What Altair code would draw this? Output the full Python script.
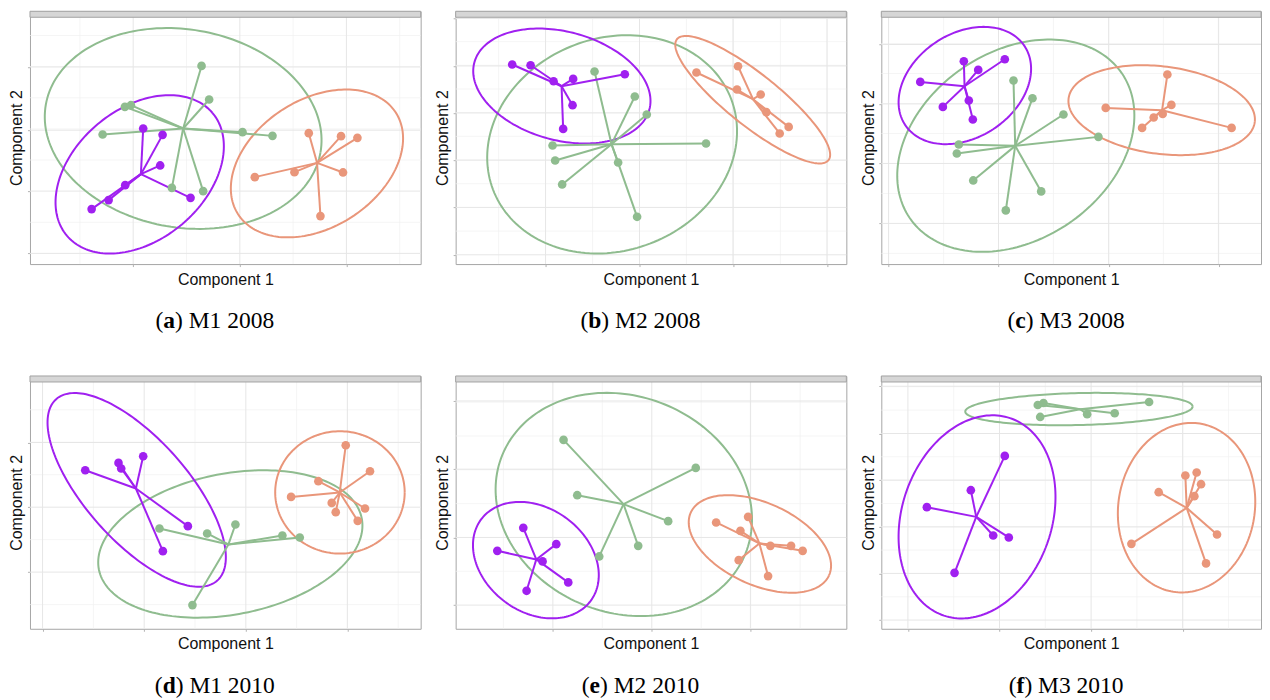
import numpy as np
import pandas as pd
import altair as alt

# ---------------- data (component scores) ----------------
GROUPS = ["Cluster 1", "Cluster 2", "Cluster 3"]
COLORS = ["#8fbc8f", "#a020f0", "#e9967a"]

# (a) M1 2008
A_GREEN_X = [171.7, 179.3, 95.0, 101.0, 72.7, 212.7, 242.7, 142.0, 173.3]
A_GREEN_Y = [198.3, 164.7, 157.3, 159.0, 129.7, 132.0, 128.3, 76.3, 73.0]
A_PURPLE_X = [113.3, 132.7, 130.3, 95.3, 78.7, 61.7, 160.7]
A_PURPLE_Y = [135.7, 129.3, 98.7, 79.0, 64.0, 55.0, 66.3]
A_ORANGE_X = [279.0, 311.3, 327.7, 313.3, 290.7, 264.7, 225.0]
A_ORANGE_Y = [131.0, 128.0, 126.3, 91.7, 48.0, 92.0, 87.0]
A_CENTERS = [(153.3, 135.7), (111.0, 90.0), (287.3, 101.3)]
A_ELLIPSES = [(153.3, 135.7, 139.5, 99.1, -9.8), (109.8, 89.8, 95.3, 65.5, 40.1), (287.2, 100.7, 93.9, 63.9, 32.8)]
A_XTICKS = [103.3, 210.0, 316.7]
A_YTICKS = [10.7, 73.0, 134.0, 197.3]

# (b) M2 2008
B_GREEN_X = [139.0, 179.3, 191.3, 97.0, 99.6, 106.6, 162.6, 181.6, 250.6]
B_GREEN_Y = [192.7, 167.7, 149.7, 118.7, 103.7, 79.7, 101.7, 47.3, 120.7]
B_PURPLE_X = [56.6, 75.0, 98.0, 117.6, 169.3, 117.0, 107.6]
B_PURPLE_Y = [199.7, 199.0, 183.0, 185.3, 190.0, 159.0, 135.3]
B_ORANGE_X = [241.0, 282.6, 281.6, 305.3, 311.0, 333.3, 324.3]
B_ORANGE_Y = [191.7, 198.0, 174.7, 169.7, 152.0, 137.3, 130.7]
B_CENTERS = [(156.0, 120.0), (106.0, 178.0), (297.6, 165.0)]
B_ELLIPSES = [(156.6, 119.8, 127.5, 106.3, 20.8), (106.3, 178.2, 90.7, 54.3, -15.1), (297.3, 164.5, 97.0, 25.8, -38.6)]
B_XTICKS = [90.0, 184.0, 277.6, 371.6]
B_YTICKS = [9.3, 56.7, 104.0, 151.3, 198.3, 245.7]

# (c) M3 2008
C_GREEN_X = [132.3, 151.3, 182.3, 217.3, 77.6, 75.6, 92.0, 160.0, 124.6]
C_GREEN_Y = [183.7, 166.0, 149.7, 127.3, 119.7, 110.7, 83.7, 72.7, 53.7]
C_PURPLE_X = [39.0, 82.6, 97.0, 123.6, 87.6, 61.6, 91.6]
C_PURPLE_Y = [182.3, 203.0, 194.3, 205.0, 163.7, 157.3, 144.7]
C_ORANGE_X = [286.3, 290.3, 281.6, 272.6, 261.0, 224.6, 350.6]
C_ORANGE_Y = [189.7, 159.3, 150.3, 146.7, 136.3, 156.3, 136.3]
C_CENTERS = [(134.0, 118.3), (83.3, 178.0), (281.0, 154.0)]
C_ELLIPSES = [(134.6, 118.5, 128.5, 94.1, 34.3), (83.6, 178.7, 71.6, 52.1, 33.4), (280.6, 154.0, 93.9, 43.8, -7.2)]
C_XTICKS = [7.3, 117.3, 227.6, 337.6]
C_YTICKS = [40.7, 100.7, 160.3, 219.7]

# (d) M1 2010
D_GREEN_X = [129.6, 177.3, 205.6, 252.6, 270.0, 162.6]
D_GREEN_Y = [100.4, 95.4, 104.4, 93.4, 91.4, 23.7]
D_PURPLE_X = [55.3, 88.6, 91.3, 113.3, 158.0, 133.0]
D_PURPLE_Y = [158.7, 166.0, 160.4, 172.7, 102.7, 77.7]
D_ORANGE_X = [316.0, 340.3, 288.6, 261.3, 302.0, 306.0, 335.3, 328.0]
D_ORANGE_Y = [183.7, 157.7, 147.7, 132.0, 126.0, 116.7, 120.4, 108.0]
D_CENTERS = [(198.6, 84.4), (106.0, 140.4), (310.0, 136.4)]
D_ELLIPSES = [(200.5, 84.9, 134.0, 70.5, 11.0), (106.8, 139.0, 121.4, 51.2, -48.4), (310.2, 136.5, 64.8, 61.2, 0.0)]
D_XTICKS = [12.6, 114.3, 216.0, 317.6]
D_YTICKS = [56.7, 121.7, 186.4]

# (e) M2 2010
E_GREEN_X = [108.0, 240.3, 121.7, 212.7, 182.7, 143.7]
E_GREEN_Y = [189.0, 161.0, 133.7, 107.7, 83.0, 72.4]
E_PURPLE_X = [67.7, 100.7, 41.7, 87.0, 112.7, 71.0]
E_PURPLE_Y = [101.0, 84.7, 78.0, 67.4, 46.4, 38.0]
E_ORANGE_X = [260.7, 292.7, 285.0, 315.0, 335.7, 347.3, 283.3, 312.7]
E_ORANGE_Y = [106.4, 112.0, 98.0, 83.0, 83.0, 78.0, 68.7, 52.7]
E_CENTERS = [(168.0, 124.7), (80.7, 69.4), (304.0, 85.4)]
E_ELLIPSES = [(168.3, 124.4, 131.3, 108.2, -22.0), (80.3, 68.7, 68.3, 51.9, -36.6), (304.5, 84.9, 76.0, 41.0, -24.5)]
E_XTICKS = [97.3, 196.3, 295.0]
E_YTICKS = [23.7, 91.4, 159.7, 228.0]

# (f) M3 2010
F_GREEN_X = [156.6, 162.3, 159.0, 206.0, 233.6, 268.0]
F_GREEN_Y = [224.0, 226.0, 212.0, 214.7, 215.7, 227.0]
F_PURPLE_X = [123.6, 89.6, 45.6, 112.0, 127.6, 73.3]
F_PURPLE_Y = [173.0, 138.7, 121.7, 93.4, 91.4, 56.0]
F_ORANGE_X = [304.3, 315.6, 320.0, 313.3, 277.6, 336.0, 325.0, 250.3]
F_ORANGE_Y = [153.4, 156.4, 144.7, 132.7, 136.7, 94.4, 65.4, 85.0]
F_CENTERS = [(199.0, 219.7), (95.0, 112.0), (305.6, 121.0)]
F_ELLIPSES = [(197.8, 219.9, 113.8, 16.0, 1.3), (95.8, 112.0, 104.2, 75.1, 71.5), (305.5, 121.2, 85.2, 68.3, 81.0)]
F_XTICKS = [26.6, 118.3, 210.0, 301.6]
F_YTICKS = [8.7, 55.4, 102.0, 148.7, 195.4, 242.7]

CAPTIONS = [("a", "M1 2008"), ("b", "M2 2008"), ("c", "M3 2008"),
            ("d", "M1 2010"), ("e", "M2 2010"), ("f", "M3 2010")]

# ---------------- layout / style ----------------
H = 253          # plot height (incl. strip)
STRIP = 6
SANS = "Liberation Sans"
SERIF = "Liberation Serif"
CAP_SIZE = 23.5
BOLD_W = {"a": 0.5, "b": 0.556, "c": 0.444, "d": 0.556, "e": 0.444, "f": 0.333}


def minor_positions(ticks, hi):
    step = (ticks[1] - ticks[0]) / 2.0
    vals = []
    v = ticks[0]
    while v - step > 0:
        v -= step
    while v < hi:
        vals.append(v)
        v += step
    return [p for p in vals if all(abs(p - t) > 1e-6 for t in ticks)]


def panel(points, centers, ellipses, xt, yt, caption, W):
    xs = alt.Scale(domain=[0, W], nice=False, zero=False)
    ys = alt.Scale(domain=[0, H], nice=False, zero=False)
    xaxis = alt.Axis(values=xt, labels=False, grid=False, domain=False, ticks=True,
                     tickSize=2.5, tickColor="#b3b3b3", title="Component 1",
                     titleFont=SANS, titleFontSize=16, titleFontWeight="normal",
                     titleColor="#111111", titlePadding=4)
    yaxis = alt.Axis(values=yt, labels=False, grid=False, domain=False, ticks=True,
                     tickSize=2.5, tickColor="#b3b3b3", title="Component 2",
                     titleFont=SANS, titleFontSize=16, titleFontWeight="normal",
                     titleColor="#111111", titlePadding=2)

    def X(f):
        return alt.X(f, type="quantitative", scale=xs, axis=xaxis)

    def Y(f):
        return alt.Y(f, type="quantitative", scale=ys, axis=yaxis)

    color = alt.Color("group:N", scale=alt.Scale(domain=GROUPS, range=COLORS), legend=None)

    pts, ell = [], []
    for g, (px, py), (cx, cy), (ex, ey, a, b, ang) in zip(GROUPS, points, centers, ellipses):
        for x, y in zip(px, py):
            pts.append({"group": g, "x": x, "y": y, "cx": cx, "cy": cy})
        t = np.linspace(0, 2 * np.pi, 181)
        th = np.radians(ang)
        ex_ = ex + a * np.cos(th) * np.cos(t) - b * np.sin(th) * np.sin(t)
        ey_ = ey + a * np.sin(th) * np.cos(t) + b * np.cos(th) * np.sin(t)
        for i, (u, v) in enumerate(zip(ex_, ey_)):
            ell.append({"group": g, "i": i, "x": float(u), "y": float(v)})
    pts = pd.DataFrame(pts)
    ell = pd.DataFrame(ell)

    vmin = pd.DataFrame({"v": minor_positions(xt, W)})
    vmaj = pd.DataFrame({"v": xt})
    hmin = pd.DataFrame({"h": minor_positions(yt, H - STRIP)})
    hmaj = pd.DataFrame({"h": [v for v in yt if v < H - STRIP]})

    g1 = alt.Chart(vmin).mark_rule(color="#f0f0f0", strokeWidth=0.7).encode(x=X("v"))
    g2 = alt.Chart(hmin).mark_rule(color="#f0f0f0", strokeWidth=0.7).encode(y=Y("h"))
    g3 = alt.Chart(vmaj).mark_rule(color="#e6e6e6", strokeWidth=1).encode(x=X("v"))
    g4 = alt.Chart(hmaj).mark_rule(color="#e6e6e6", strokeWidth=1).encode(y=Y("h"))

    segs = alt.Chart(pts).mark_rule(strokeWidth=2, clip=True).encode(
        x=X("x"), y=Y("y"), x2="cx:Q", y2="cy:Q", color=color)
    dots = alt.Chart(pts).mark_circle(size=75, opacity=1, clip=True).encode(
        x=X("x"), y=Y("y"), color=color)
    ells = alt.Chart(ell).mark_line(strokeWidth=2, clip=True).encode(
        x=X("x"), y=Y("y"), order="i:Q", detail="group:N", color=color)

    strip = alt.Chart(pd.DataFrame({"s": [0]})).mark_rect(
        fill="#d6d6d6", stroke="#a3a3a3", strokeWidth=1).encode(
        x=alt.value(0), x2=alt.value(W), y=alt.value(0), y2=alt.value(STRIP))

    letter, rest = caption
    total = (0.333 + BOLD_W[letter] + 0.333 + 0.25 + 0.889 + 0.5 + 0.25 + 2.0) * CAP_SIZE
    x0 = 185 - total / 2
    ybase = 317
    cap1 = alt.Chart(pd.DataFrame({"t": ["("]})).mark_text(
        font=SERIF, fontSize=CAP_SIZE, align="left", baseline="alphabetic", color="#000000").encode(
        text="t:N", x=alt.value(x0), y=alt.value(ybase))
    cap2 = alt.Chart(pd.DataFrame({"t": [letter]})).mark_text(
        font=SERIF, fontSize=CAP_SIZE, fontWeight="bold", align="left", baseline="alphabetic",
        color="#000000").encode(
        text="t:N", x=alt.value(x0 + 0.333 * CAP_SIZE), y=alt.value(ybase))
    cap3 = alt.Chart(pd.DataFrame({"t": [") " + rest]})).mark_text(
        font=SERIF, fontSize=CAP_SIZE, align="left", baseline="alphabetic", color="#000000").encode(
        text="t:N", x=alt.value(x0 + (0.333 + BOLD_W[letter]) * CAP_SIZE), y=alt.value(ybase))

    return alt.layer(g1, g2, g3, g4, ells, segs, dots, strip, cap1, cap2, cap3).properties(
        width=W, height=H)


W_PANEL = 391
pa = panel([(A_GREEN_X, A_GREEN_Y), (A_PURPLE_X, A_PURPLE_Y), (A_ORANGE_X, A_ORANGE_Y)],
           A_CENTERS, A_ELLIPSES, A_XTICKS, A_YTICKS, CAPTIONS[0], W_PANEL)
pb = panel([(B_GREEN_X, B_GREEN_Y), (B_PURPLE_X, B_PURPLE_Y), (B_ORANGE_X, B_ORANGE_Y)],
           B_CENTERS, B_ELLIPSES, B_XTICKS, B_YTICKS, CAPTIONS[1], W_PANEL)
pc = panel([(C_GREEN_X, C_GREEN_Y), (C_PURPLE_X, C_PURPLE_Y), (C_ORANGE_X, C_ORANGE_Y)],
           C_CENTERS, C_ELLIPSES, C_XTICKS, C_YTICKS, CAPTIONS[2], 380)
pd_ = panel([(D_GREEN_X, D_GREEN_Y), (D_PURPLE_X, D_PURPLE_Y), (D_ORANGE_X, D_ORANGE_Y)],
            D_CENTERS, D_ELLIPSES, D_XTICKS, D_YTICKS, CAPTIONS[3], W_PANEL)
pe = panel([(E_GREEN_X, E_GREEN_Y), (E_PURPLE_X, E_PURPLE_Y), (E_ORANGE_X, E_ORANGE_Y)],
           E_CENTERS, E_ELLIPSES, E_XTICKS, E_YTICKS, CAPTIONS[4], W_PANEL)
pf = panel([(F_GREEN_X, F_GREEN_Y), (F_PURPLE_X, F_PURPLE_Y), (F_ORANGE_X, F_ORANGE_Y)],
           F_CENTERS, F_ELLIPSES, F_XTICKS, F_YTICKS, CAPTIONS[5], 380)

chart = alt.concat(pa, pb, pc, pd_, pe, pf, columns=3,
                   spacing={"row": 112, "column": 35}, bounds="flush").properties(
    padding={"left": 0, "top": 2, "right": 0, "bottom": 0}
).configure_view(stroke="#a6a6a6", strokeWidth=1)

chart.save("out.html", embed_options={"renderer": "svg", "actions": False})
